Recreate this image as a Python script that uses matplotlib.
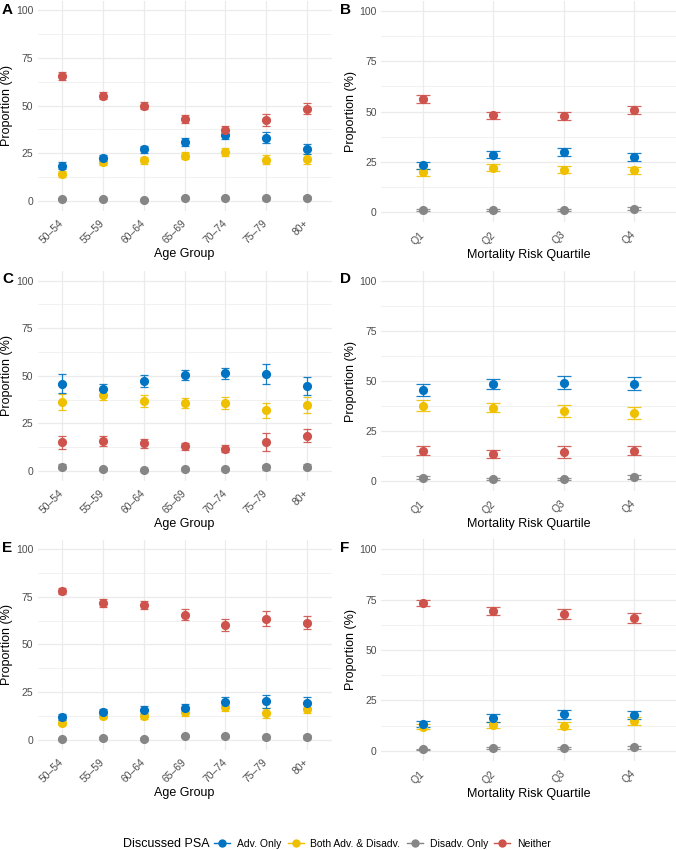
import matplotlib
matplotlib.use('Agg')
import matplotlib.pyplot as plt
from matplotlib.lines import Line2D

plt.rcParams['font.family'] = ['Liberation Sans', 'DejaVu Sans']

# ---------------- data ----------------
age_groups = ["50–54", "55–59", "60–64", "65–69", "70–74", "75–79", "80+"]
quartiles = ["Q1", "Q2", "Q3", "Q4"]
series_names = ["Adv. Only", "Both Adv. & Disadv.", "Disadv. Only", "Neither"]
series_colors = ["#0073C2", "#EFC000", "#868686", "#CD534C"]

# Panel A (age group)
a_adv = [18.5, 22.6, 27.1, 30.9, 34.6, 33.2, 27.1]
a_adv_err = [1.8, 1.7, 1.8, 1.9, 2.2, 3.0, 2.6]
a_both = [14.3, 20.3, 21.2, 23.8, 25.7, 21.7, 22.0]
a_both_err = [1.6, 1.6, 1.7, 1.9, 2.1, 2.6, 2.5]
a_dis = [1.0, 1.0, 0.7, 1.4, 1.4, 1.5, 1.8]
a_dis_err = [0.4, 0.4, 0.4, 0.5, 0.6, 0.8, 0.9]
a_nei = [65.4, 55.2, 50.0, 43.0, 37.2, 42.5, 48.3]
a_nei_err = [1.9, 1.7, 1.8, 2.0, 2.3, 3.1, 3.0]

# Panel B (mortality quartile)
b_adv = [23.3, 28.5, 29.8, 27.2]
b_adv_err = [1.7, 1.7, 2.0, 1.9]
b_both = [19.8, 22.0, 21.0, 20.8]
b_both_err = [1.7, 1.7, 1.7, 1.7]
b_dis = [0.8, 1.2, 1.2, 1.7]
b_dis_err = [0.5, 0.5, 0.5, 0.6]
b_nei = [56.2, 48.2, 47.8, 50.7]
b_nei_err = [1.8, 1.8, 2.1, 2.0]

# Panel C (age group)
c_adv = [45.9, 42.8, 47.3, 50.3, 51.3, 50.8, 44.5]
c_adv_err = [5.2, 3.0, 3.1, 2.6, 2.8, 5.3, 4.6]
c_both = [36.3, 39.8, 36.8, 35.6, 35.6, 31.8, 34.7]
c_both_err = [4.2, 2.7, 3.2, 2.6, 3.0, 4.1, 4.4]
c_dis = [2.3, 1.0, 0.7, 0.9, 1.0, 1.9, 2.3]
c_dis_err = [1.3, 0.6, 0.5, 0.5, 0.6, 1.2, 1.3]
c_nei = [15.0, 15.7, 14.5, 12.9, 11.7, 15.0, 18.5]
c_nei_err = [3.3, 2.5, 2.3, 1.8, 1.8, 4.7, 3.5]

# Panel D (mortality quartile)
d_adv = [45.4, 48.6, 49.2, 48.6]
d_adv_err = [3.0, 2.5, 3.3, 3.3]
d_both = [37.6, 36.6, 34.9, 34.1]
d_both_err = [2.8, 2.3, 3.0, 2.9]
d_dis = [1.7, 0.8, 1.0, 2.0]
d_dis_err = [0.9, 0.5, 0.6, 0.9]
d_nei = [15.1, 13.5, 14.5, 15.1]
d_nei_err = [2.2, 1.8, 3.2, 2.2]

# Panel E (age group)
e_adv = [12.1, 14.5, 15.7, 16.8, 19.9, 20.3, 19.6]
e_adv_err = [1.5, 1.8, 2.0, 2.0, 2.5, 3.5, 2.8]
e_both = [9.1, 12.8, 12.4, 14.5, 17.3, 14.2, 16.3]
e_both_err = [1.3, 1.5, 1.5, 1.8, 2.2, 2.5, 2.4]
e_dis = [0.4, 0.9, 0.5, 2.1, 1.9, 1.4, 1.6]
e_dis_err = [0.3, 0.4, 0.3, 0.7, 0.9, 0.8, 0.9]
e_nei = [78.1, 71.7, 70.6, 65.6, 60.3, 63.5, 61.5]
e_nei_err = [1.5, 2.0, 2.0, 3.0, 3.0, 3.8, 3.3]

# Panel F (mortality quartile)
f_adv = [13.3, 16.3, 18.1, 17.6]
f_adv_err = [1.5, 1.8, 2.2, 2.0]
f_both = [12.0, 13.0, 12.5, 14.8]
f_both_err = [1.3, 1.5, 1.8, 1.8]
f_dis = [0.7, 1.5, 1.3, 1.7]
f_dis_err = [0.4, 0.6, 0.6, 0.6]
f_nei = [73.5, 69.2, 67.9, 65.9]
f_nei_err = [1.5, 2.0, 2.3, 2.3]

y_ticks = [0, 25, 50, 75, 100]

# ---------------- layout ----------------
W, H = 676, 850
DPI = 100
fig = plt.figure(figsize=(W / DPI, H / DPI), dpi=DPI)
fig.patch.set_facecolor('white')

GRID = '#EBEBEB'
TICKC = '#4D4D4D'


def add_ax(l, r, t, b):
    return fig.add_axes([l / W, 1 - b / H, (r - l) / W, (b - t) / H])


def draw_panel(box, cats, data, xlabel, letter, letter_xy):
    l, r, t, b = box
    ax = add_ax(l, r, t, b)
    n = len(cats)
    x = list(range(1, n + 1))
    ax.set_xlim(0.4, n + 0.6)
    ax.set_ylim(-5, 105)
    # cap half-width of 0.1 data units, converted to points
    px_per_unit = (r - l) / (n + 0.2)
    capsize = 0.1 * px_per_unit * 72 / DPI
    # grid
    for yv in [12.5, 37.5, 62.5, 87.5]:
        ax.axhline(yv, color=GRID, lw=0.5, zorder=0)
    for yv in y_ticks:
        ax.axhline(yv, color=GRID, lw=0.9, zorder=0)
    for xv in x:
        ax.axvline(xv, color=GRID, lw=0.9, zorder=0)
    # draw order: both, disadv, adv, neither
    order = [1, 2, 0, 3]
    for k, idx in enumerate(order):
        vals, errs = data[idx]
        col = series_colors[idx]
        ax.errorbar(x, vals, yerr=errs, fmt='none', ecolor=col, elinewidth=0.9,
                    capsize=capsize, capthick=0.9, zorder=2 + k, alpha=0.9)
    for k, idx in enumerate(order):
        vals, errs = data[idx]
        col = series_colors[idx]
        ax.plot(x, vals, 'o', color=col, markersize=6.6, markeredgewidth=0,
                zorder=10 + k)
    for s in ax.spines.values():
        s.set_visible(False)
    ax.set_yticks(y_ticks)
    ax.set_yticklabels([str(v) for v in y_ticks])
    ax.set_xticks(x)
    ax.set_xticklabels(cats, rotation=45, ha='right', va='center',
                       rotation_mode='anchor')
    ax.tick_params(length=0, labelsize=7.5, labelcolor=TICKC)
    ax.tick_params(axis='x', pad=8)
    ax.tick_params(axis='y', pad=3)
    ax.set_ylabel('Proportion (%)', fontsize=9, labelpad=2)
    ax.set_xlabel(xlabel, fontsize=9, labelpad=2)
    fig.text(letter_xy[0] / W, 1 - letter_xy[1] / H, letter, fontsize=11,
             fontweight='bold', ha='left', va='center')
    return ax


draw_panel((37.5, 331.5, 0.5, 210.5), age_groups,
           [(a_adv, a_adv_err), (a_both, a_both_err), (a_dis, a_dis_err), (a_nei, a_nei_err)],
           'Age Group', 'A', (2, 10))
draw_panel((381, 676, 1, 222), quartiles,
           [(b_adv, b_adv_err), (b_both, b_both_err), (b_dis, b_dis_err), (b_nei, b_nei_err)],
           'Mortality Risk Quartile', 'B', (340, 10))
draw_panel((37.5, 331.5, 271, 480.5), age_groups,
           [(c_adv, c_adv_err), (c_both, c_both_err), (c_dis, c_dis_err), (c_nei, c_nei_err)],
           'Age Group', 'C', (2, 279))
draw_panel((381, 676, 271, 491), quartiles,
           [(d_adv, d_adv_err), (d_both, d_both_err), (d_dis, d_dis_err), (d_nei, d_nei_err)],
           'Mortality Risk Quartile', 'D', (340, 279))
draw_panel((37.5, 331.5, 539.5, 749.5), age_groups,
           [(e_adv, e_adv_err), (e_both, e_both_err), (e_dis, e_dis_err), (e_nei, e_nei_err)],
           'Age Group', 'E', (2, 548))
draw_panel((381, 676, 539, 761), quartiles,
           [(f_adv, f_adv_err), (f_both, f_both_err), (f_dis, f_dis_err), (f_nei, f_nei_err)],
           'Mortality Risk Quartile', 'F', (340, 548))

# ---------------- legend ----------------
fig.text(123 / W, 1 - 844 / H, 'Discussed PSA', fontsize=9, ha='left', va='center')
handles = [Line2D([0], [0], color=c, lw=1.0, marker='o', markersize=6,
                  markeredgewidth=0) for c in series_colors]
fig.legend(handles, series_names, loc='center left',
           bbox_to_anchor=(214 / W, 1 - 844 / H), ncol=4, frameon=False,
           fontsize=7.5, handlelength=1.55, handletextpad=0.65, columnspacing=0.6,
           borderaxespad=0, borderpad=0)

fig.savefig('out.png', dpi=DPI, facecolor='white')
